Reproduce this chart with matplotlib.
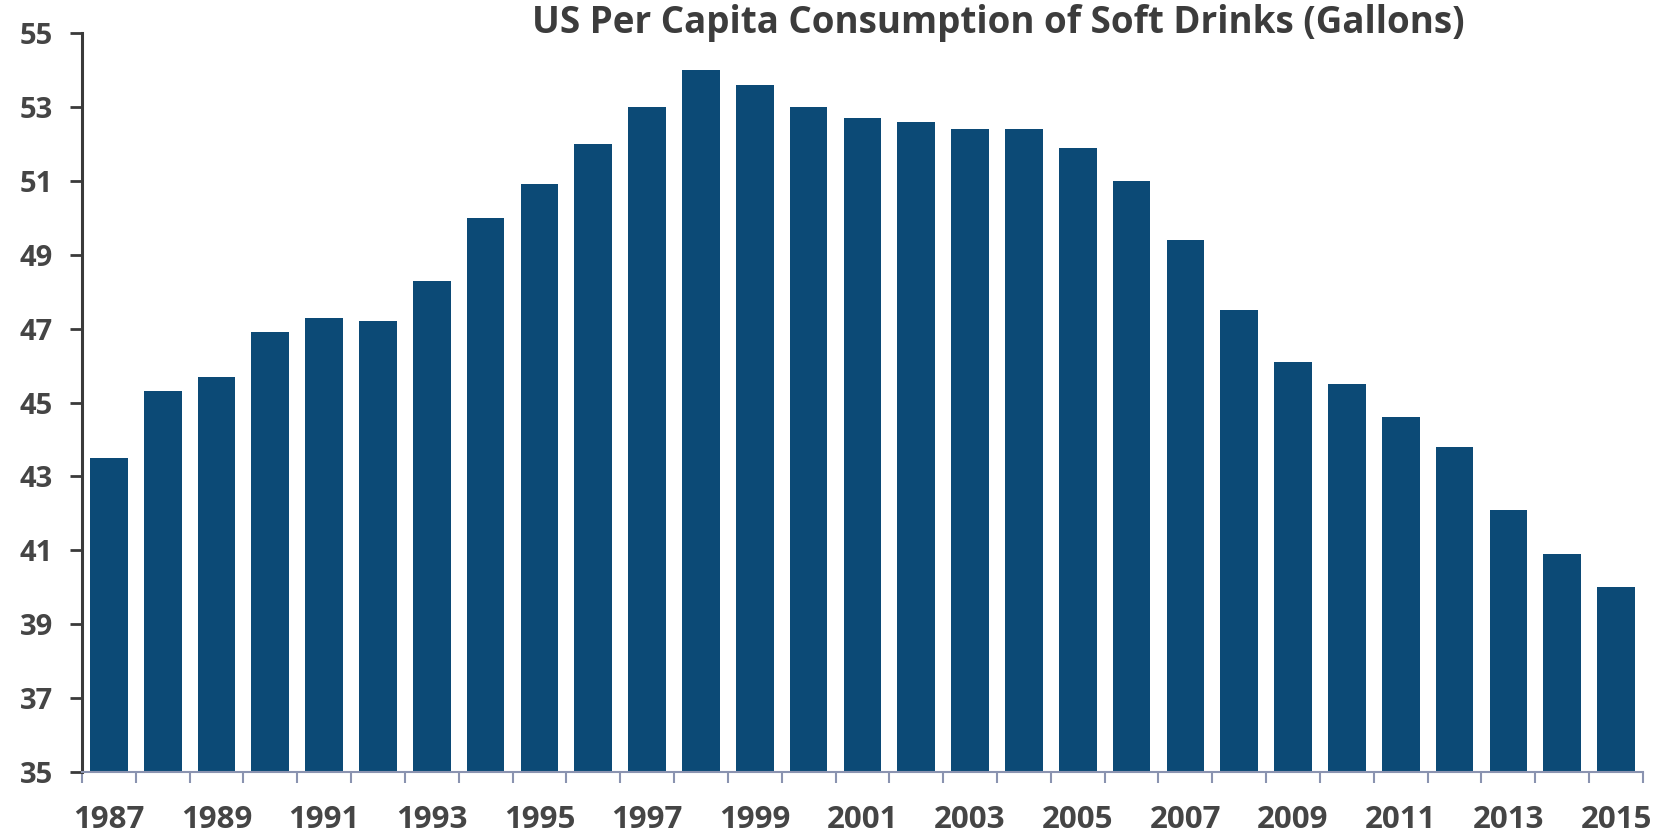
import matplotlib
matplotlib.use("Agg")
import matplotlib.pyplot as plt
import numpy as np

years = list(range(1987, 2016))
values = [43.5, 45.3, 45.7, 46.9, 47.3, 47.2, 48.3, 50.0, 50.9, 52.0,
          53.0, 54.0, 53.6, 53.0, 52.7, 52.6, 52.4, 52.4, 51.9, 51.0,
          49.4, 47.5, 46.1, 45.5, 44.6, 43.8, 42.1, 40.9, 40.0]
yticks = list(range(35, 56, 2))
title = "US Per Capita Consumption of Soft Drinks (Gallons)"

plt.rcParams['font.family'] = ['Open Sans', 'DejaVu Sans']
fig = plt.figure(figsize=(16.55, 8.35), dpi=100)
ax = fig.add_axes([0.0495, 0.0754, 0.9432, 0.8851])

x = np.arange(len(years))
ax.bar(x, values, width=0.7, color='#0c4a76', bottom=0)
ax.set_ylim(35, 55)
ax.set_xlim(-0.5, len(years) - 0.5)

ax.set_yticks(yticks)
ax.set_yticklabels([str(v) for v in yticks], fontsize=21, fontweight='bold', color='#454545')
ax.tick_params(axis='y', direction='out', length=9, width=2, color='#3a3a3a', pad=12)

ax.set_xticks(x[::2])
ax.set_xticklabels([str(y) for y in years[::2]], fontsize=22.5, fontweight='bold', color='#454545')
ax.tick_params(axis='x', length=0, pad=24)
ax.set_xticks(np.arange(-0.5, len(years), 1), minor=True)
ax.tick_params(axis='x', which='minor', direction='out', length=8, width=1.5, color='#8a93b0')

for s in ['top', 'right']:
    ax.spines[s].set_visible(False)
ax.spines['left'].set_color('#3a3a3a')
ax.spines['left'].set_linewidth(2.2)
ax.spines['bottom'].set_color('#8a93b0')
ax.spines['bottom'].set_linewidth(1.5)

fig.text(0.603, 0.972, title, ha='center', va='center', fontsize=26.5, fontweight='bold', color='#3c3c3c')

fig.savefig('out.png', dpi=100)
